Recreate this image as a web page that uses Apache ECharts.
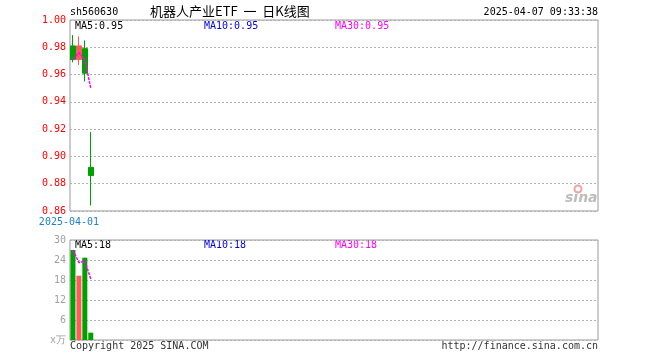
<!DOCTYPE html>
<html><head><meta charset="utf-8">
<script src="https://cdn.jsdelivr.net/npm/echarts@6/dist/echarts.min.js"></script>
<style>html,body{margin:0;padding:0;background:#fff}#c{width:660px;height:360px}</style>
</head><body><div id="c"></div>
<script>
// ---- data ----
const dates = ['2025-04-01', '2025-04-02', '2025-04-03', '2025-04-07'];
// [open, close, low, high]
const ohlc = [
  [0.981, 0.971, 0.969, 0.989],
  [0.971, 0.981, 0.967, 0.988],
  [0.979, 0.961, 0.955, 0.985],
  [0.892, 0.886, 0.864, 0.918]
];
const priceMA = [0.971, 0.976, 0.971, 0.950];
const volume = [27.0, 19.3, 24.7, 2.2];
const volumeMA = [27.0, 23.2, 23.7, 18.3];
const priceTicks = { min: 0.86, max: 1.00, step: 0.02 };
const volTicks = { min: 0, max: 30, step: 6 };
const maTextPrice = ['MA5:0.95', 'MA10:0.95', 'MA30:0.95'];
const maTextVol = ['MA5:18', 'MA10:18', 'MA30:18'];
const TOTAL_SLOTS = 89;

// ---- build ----
const axisCats = dates.concat(new Array(TOTAL_SLOTS - dates.length).fill(''));
const UP = '#ff5a5a', DOWN = '#00a000';
const MONO = '"DejaVu Sans Mono", monospace';
const volData = volume.map((v, i) => ({
  value: v,
  itemStyle: { color: ohlc[i][1] >= ohlc[i][0] ? UP : DOWN }
}));

const chart = echarts.init(document.getElementById('c'), null, { renderer: 'canvas' });
const maColors = ['#000000', '#0000e0', '#ff00ff'];
const maX = [75, 204, 335];
function maTexts(arr, y) {
  return arr.map((t, i) => ({
    type: 'text', left: maX[i], top: y,
    style: { text: t, fill: maColors[i], font: '10px ' + MONO }
  }));
}
chart.setOption({
  animation: false,
  backgroundColor: '#fff',
  grid: [
    { left: 70, right: 62, top: 20, height: 191, show: true, borderColor: '#999', borderWidth: 1, backgroundColor: 'transparent' },
    { left: 70, right: 62, top: 240, height: 100, show: true, borderColor: '#999', borderWidth: 1, backgroundColor: 'transparent' }
  ],
  xAxis: [
    { type: 'category', gridIndex: 0, data: axisCats, boundaryGap: true,
      axisLine: { show: false }, axisTick: { show: false }, splitLine: { show: false },
      axisLabel: { interval: function (i) { return i === 0; }, color: '#1a80d0', fontFamily: MONO, fontSize: 10, margin: 6, padding: [0, 8, 0, 0] } },
    { type: 'category', gridIndex: 1, data: axisCats, boundaryGap: true,
      axisLine: { show: false }, axisTick: { show: false }, splitLine: { show: false }, axisLabel: { show: false } }
  ],
  yAxis: [
    { type: 'value', gridIndex: 0, min: priceTicks.min, max: priceTicks.max, interval: priceTicks.step, scale: true,
      axisLine: { show: false }, axisTick: { show: false },
      splitLine: { show: true, lineStyle: { color: '#b0b0b0', type: [2, 2], width: 1 } },
      axisLabel: { color: '#ff0000', fontFamily: MONO, fontSize: 10, margin: 4, formatter: v => v.toFixed(2) } },
    { type: 'value', gridIndex: 1, min: volTicks.min, max: volTicks.max, interval: volTicks.step,
      axisLine: { show: false }, axisTick: { show: false },
      splitLine: { show: true, lineStyle: { color: '#b0b0b0', type: [2, 2], width: 1 } },
      axisLabel: { color: '#a0a0a0', fontFamily: MONO, fontSize: 10, margin: 4,
        formatter: v => v === 0 ? 'x万' : String(v) } }
  ],
  series: [
    { type: 'candlestick', xAxisIndex: 0, yAxisIndex: 0, barWidth: 5,
      data: ohlc.map(d => [d[0], d[1], d[2], d[3]]),
      itemStyle: { color: UP, color0: DOWN, borderColor: UP, borderColor0: DOWN, borderWidth: 1 } },
    { type: 'line', xAxisIndex: 0, yAxisIndex: 0, data: priceMA, symbol: 'none', z: 5,
      lineStyle: { color: '#ff00ff', width: 1.5, type: [3, 1] } },
    { type: 'bar', xAxisIndex: 1, yAxisIndex: 1, data: volData, barWidth: 5 },
    { type: 'line', xAxisIndex: 1, yAxisIndex: 1, data: volumeMA, symbol: 'none', z: 5,
      lineStyle: { color: '#ff00ff', width: 1.5, type: [3, 1] } }
  ],
  graphic: [
    { type: 'text', left: 70, top: 7, style: { text: 'sh560630', fill: '#000', font: '10px ' + MONO } },
    { type: 'text', left: 150, top: 5, style: { text: '机器人产业ETF  一  日K线图', fill: '#000', font: '13px "Noto Sans CJK SC"' } },
    { type: 'text', right: 62, top: 7, style: { text: '2025-04-07 09:33:38', fill: '#000', font: '10px ' + MONO } },
    ...maTexts(maTextPrice, 21),
    ...maTexts(maTextVol, 240),
    { type: 'text', left: 70, top: 341, style: { text: 'Copyright 2025 SINA.COM', fill: '#333', font: '10px ' + MONO } },
    { type: 'text', right: 62, top: 341, style: { text: 'http://finance.sina.com.cn', fill: '#333', font: '10px ' + MONO } },
    { type: 'circle', shape: { cx: 578, cy: 189, r: 3.5 }, style: { fill: 'none', stroke: '#f5a0a0', lineWidth: 2 } },
    { type: 'text', left: 565, top: 191, style: { text: 'sina', fill: '#bdbdbd', font: 'italic bold 14px "DejaVu Sans"' } }
  ]
});
</script></body></html>
